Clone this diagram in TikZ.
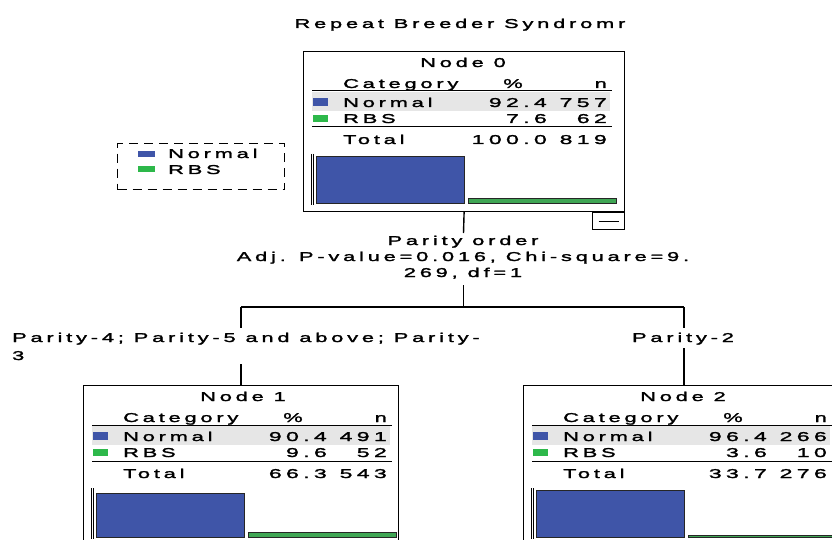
\documentclass[tikz,border=0pt]{standalone}
\usepackage{fontspec}
\newfontfamily\spss{Liberation Sans}[FakeStretch=1.7,LetterSpace=30,FakeBold=2]
\newfontfamily\spssnum{Liberation Sans}[FakeStretch=1.8,LetterSpace=34,FakeBold=2]
\definecolor{barblue}{HTML}{3F55A8}
\definecolor{bargreen}{HTML}{3FA654}
\definecolor{legreen}{HTML}{2DB84A}
\definecolor{rowgray}{HTML}{E6E6E6}
\tikzset{
  txt/.style={inner sep=0pt, font=\spss\fontsize{12.8}{14}\selectfont},
  lt/.style={txt, anchor=base west},
  rt/.style={txt, anchor=base east},
  ct/.style={txt, anchor=base},
  num/.style={inner sep=0pt, anchor=base east, font=\spssnum\fontsize{12.8}{14}\selectfont},
  boxnode/.style={draw, line width=1.2pt, anchor=north west, inner sep=0pt},
  conn/.style={line width=1.4pt},
  rule/.style={line width=1pt},
}
% \panel{name}{x}{y}{k}{normal%}{normal n}{rbs%}{rbs n}{width}; uses \tp \tn \gtop \btop
\newcommand\panel[9]{%
  \begin{scope}[shift={(#2,#3)}]
    \node[boxnode, minimum width=#9pt, minimum height=160pt] (#1) at (0,0) {};
    \fill[rowgray] (9,41) rectangle (307,60);
    \node[ct] (#1t) at (160,16) {Node #4};
    \node[lt] (#1c) at (40,37) {Category};
    \node[ct] (#1p) at (210,37) {\%};
    \node[rt] (#1n) at (304,37) {n};
    \draw[rule] (9,40) -- (309,40);
    \fill[barblue] (10,47) rectangle (25,55);
    \node[lt] (#1a) at (40,56) {Normal};
    \node[num] (#1ap) at (244,56) {#5};
    \node[num] (#1an) at (304,56) {#6};
    \fill[legreen] (10,64) rectangle (25,71);
    \node[lt] (#1b) at (40,72) {RBS};
    \node[num] (#1bp) at (244,72) {#7};
    \node[num] (#1bn) at (304,72) {#8};
    \draw[rule] (9,76) -- (309,76);
    \node[lt] (#1s) at (40,93) {Total};
    \node[num] (#1sp) at (244,93) {\tp};
    \node[num] (#1sn) at (304,93) {\tn};
    \draw[line width=0.8pt] (8,103) -- (8,154) (10.5,103) -- (10.5,154);
    \filldraw[fill=barblue, draw=black!85, line width=1pt] (13,\btop) rectangle (161,152);
    \filldraw[fill=bargreen, draw=black!85, line width=1pt] (165,\gtop) rectangle (313,152);
  \end{scope}}
\begin{document}
\begin{tikzpicture}[x=1pt,y=-1pt]
\useasboundingbox (0,0) rectangle (832,540);
\clip (0,0) rectangle (832,540);
\fill[white] (0,0) rectangle (832,540);

\node[ct] (title) at (460,28) {Repeat Breeder Syndromr};

\def\tp{100.0}\def\tn{819}\def\btop{106}\def\gtop{148}
\panel{n0}{303}{51}{0}{92.4}{757}{7.6}{62}{321}
\def\tp{66.3}\def\tn{543}\def\btop{108}\def\gtop{147}
\panel{n1}{83}{385}{1}{90.4}{491}{9.6}{52}{315}
\def\tp{33.7}\def\tn{276}\def\btop{105}\def\gtop{150}
\panel{n2}{523}{385}{2}{96.4}{266}{3.6}{10}{321}

% collapse box
\node[draw, line width=1.2pt, inner sep=0pt, minimum width=32pt, minimum height=17pt,
      anchor=north east] (collapse) at (n0.south east) {};
\draw[line width=1pt] ([xshift=-10pt]collapse.center) -- ([xshift=10pt]collapse.center);

% legend
\node[draw, dash pattern=on 9pt off 6pt, line width=1.2pt, inner sep=0pt,
      minimum width=167pt, minimum height=46pt, anchor=north west] (legend) at (117,143) {};
\fill[barblue] (138,151) rectangle (155,157);
\fill[legreen] (138,166) rectangle (155,172);
\node[lt] (legn) at (168,158) {Normal};
\node[lt] (legr) at (168,174) {RBS};

% split
\coordinate (j0) at (463.5,233);
\draw[conn] (n0.south) -- (j0);
\node[ct] (s1) at (463,245) {Parity order};
\node[ct] (s2) at (463,261) {Adj. P-value=0.016, Chi-square=9.};
\node[ct] (s3) at (463,277) {269, df=1};
\coordinate (j1) at (463.5,285);
\coordinate (h) at (463.5,307);
\coordinate (ya) at (0,328);
\coordinate (yb) at (0,364);
\coordinate (yc) at (0,348);
\draw[conn] (j1) -- (h);
\draw[conn] (n1.north |- h) -- (n2.north |- h);
\draw[conn] (n1.north |- h) -- (n1.north |- ya);
\draw[conn] (n2.north |- h) -- (n2.north |- ya);
\node[lt] (e1) at (12,342) {Parity-4; Parity-5 and above; Parity-};
\node[lt] (e1b) at (12,360) {3};
\node[ct] (e2) at (683,342) {Parity-2};
\draw[conn] (n1.north |- yb) -- (n1.north);
\draw[conn] (n2.north |- yc) -- (n2.north);
\end{tikzpicture}
\end{document}
